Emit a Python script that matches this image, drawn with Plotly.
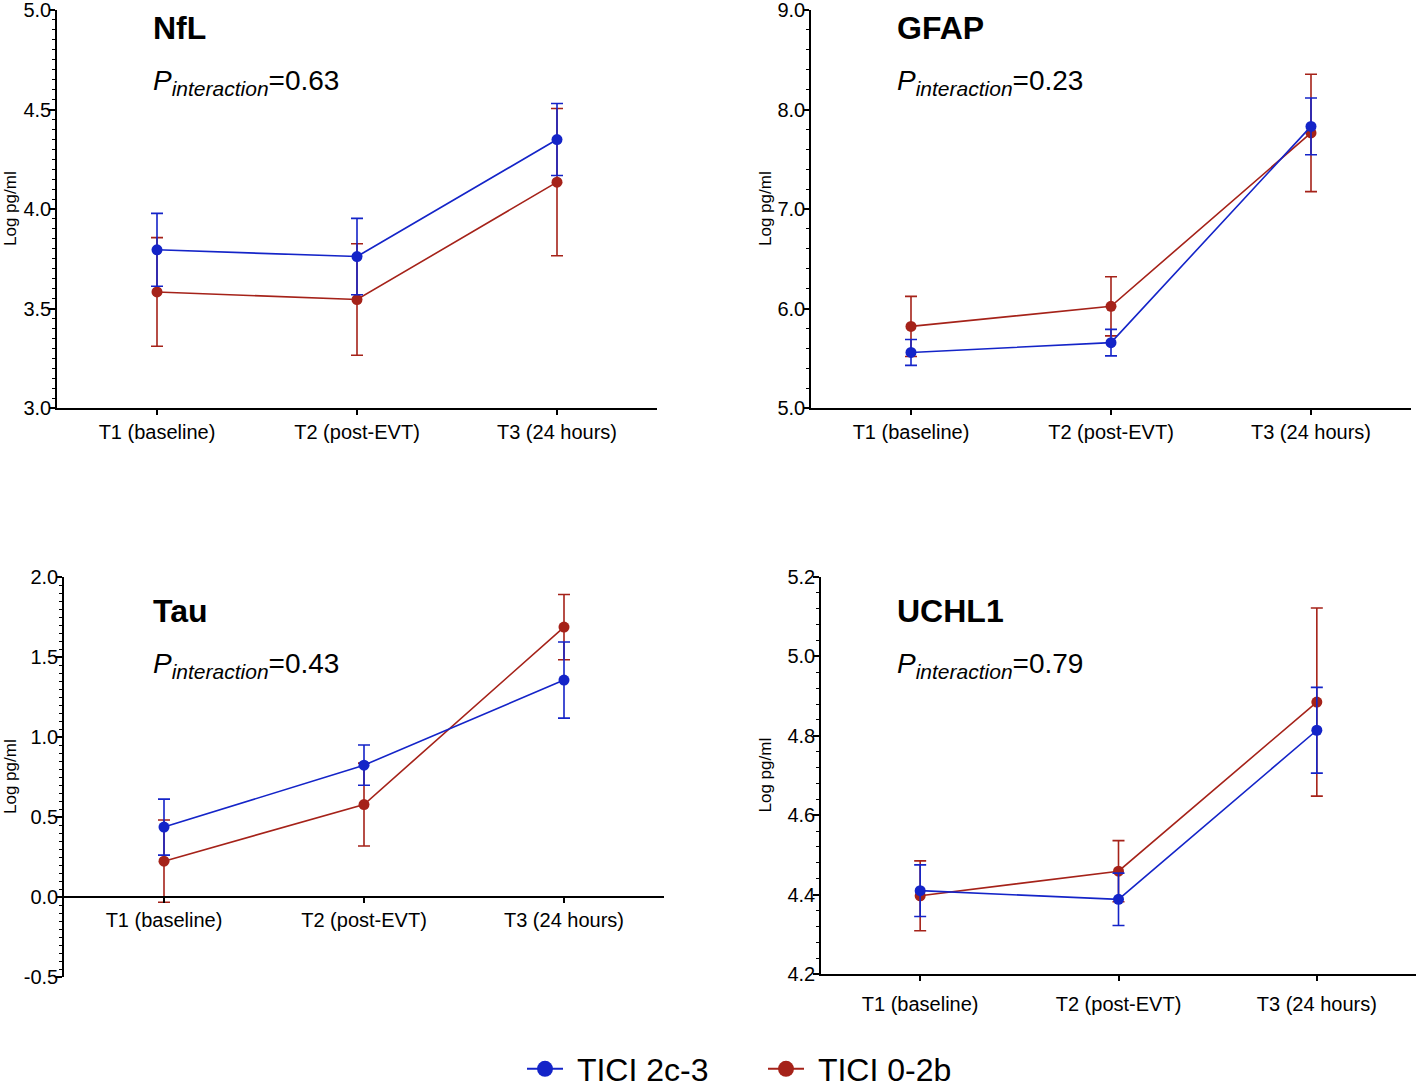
import plotly.graph_objects as go

# time points shared by all four panels
timepoints = ['T1 (baseline)', 'T2 (post-EVT)', 'T3 (24 hours)']

# mean log pg/ml and error (half-width of the bar)
nfl_good = [3.795, 3.761, 4.349]
nfl_good_err = [0.183, 0.192, 0.181]
nfl_poor = [3.583, 3.545, 4.135]
nfl_poor_err = [0.273, 0.280, 0.370]

gfap_good = [5.558, 5.657, 7.830]
gfap_good_err = [0.130, 0.133, 0.285]
gfap_poor = [5.820, 6.022, 7.765]
gfap_poor_err = [0.302, 0.297, 0.590]

tau_good = [0.437, 0.824, 1.356]
tau_good_err = [0.175, 0.126, 0.238]
tau_poor = [0.224, 0.578, 1.687]
tau_poor_err = [0.257, 0.259, 0.204]

uchl1_good = [4.410, 4.388, 4.814]
uchl1_good_err = [0.065, 0.066, 0.108]
uchl1_poor = [4.397, 4.459, 4.885]
uchl1_poor_err = [0.088, 0.077, 0.237]

# y tick values for each panel
nfl_ticks = [3.0, 3.5, 4.0, 4.5, 5.0]
gfap_ticks = [5.0, 6.0, 7.0, 8.0, 9.0]
tau_ticks = [-0.5, 0.0, 0.5, 1.0, 1.5, 2.0]
uchl1_ticks = [4.2, 4.4, 4.6, 4.8, 5.0, 5.2]

p_values = ['0.63', '0.23', '0.43', '0.79']
markers = ['NfL', 'GFAP', 'Tau', 'UCHL1']

legend_names = ['TICI 2c-3', 'TICI 0-2b']

BLUE = '#1424c8'
RED = '#a52219'
FONT = 'Liberation Sans, Arial, sans-serif'

W = 1418
H = 1087


def px_x(p):
    return p / W


def px_y(p):
    return 1 - p / H


# panel boxes in pixels: left, right, top, bottom
panels = [
    dict(box=(57, 657, 10, 408), ticks=nfl_ticks, minor=0.05,
         good=(nfl_good, nfl_good_err), poor=(nfl_poor, nfl_poor_err)),
    dict(box=(811, 1411, 10, 408), ticks=gfap_ticks, minor=0.2,
         good=(gfap_good, gfap_good_err), poor=(gfap_poor, gfap_poor_err)),
    dict(box=(64, 664, 577, 977), ticks=tau_ticks, minor=0.05,
         good=(tau_good, tau_good_err), poor=(tau_poor, tau_poor_err)),
    dict(box=(821, 1416, 577, 974), ticks=uchl1_ticks, minor=0.04,
         good=(uchl1_good, uchl1_good_err), poor=(uchl1_poor, uchl1_poor_err)),
]

title_pos = [(151, 28), (895, 28), (151, 611), (895, 611)]
p_pos = [(151, 82), (895, 82), (151, 665), (895, 665)]
ylabel_x = [10, 765, 10, 765]

fig = go.Figure()
layout = dict(
    width=W, height=H,
    margin=dict(l=0, r=0, t=0, b=0, autoexpand=False),
    paper_bgcolor='white', plot_bgcolor='white',
    font=dict(family=FONT, color='black'),
    showlegend=True,
    annotations=[],
)

for i, pan in enumerate(panels):
    n = '' if i == 0 else str(i + 1)
    left, right, top, bottom = pan['box']
    ydom = [px_y(bottom), px_y(top)]
    yr = [pan['ticks'][0], pan['ticks'][-1]]

    for (vals, errs), color in [(pan['poor'], RED), (pan['good'], BLUE)]:
        fig.add_trace(go.Scatter(
            x=[0, 1, 2], y=vals,
            mode='lines+markers',
            line=dict(color=color, width=1.6),
            marker=dict(color=color, size=11),
            error_y=dict(type='data', array=errs, color=color,
                         thickness=1.6, width=6),
            showlegend=False,
            xaxis='x' + n, yaxis='y' + n,
        ))

    xaxis = dict(
        domain=[px_x(left), px_x(right)],
        range=[-0.5, 2.5],
        tickvals=[0, 1, 2], ticktext=timepoints,
        showline=True, linecolor='black', linewidth=1.5,
        ticks='outside', ticklen=5, tickwidth=1.5, tickcolor='black',
        tickfont=dict(size=20),
        showgrid=False, zeroline=False, automargin=False,
        anchor='y' + n,
    )
    if i == 3:
        xaxis['ticklabelstandoff'] = 6
    if i == 2:
        # x axis sits at y = 0 in the Tau panel
        y0 = bottom - (0 - yr[0]) / (yr[1] - yr[0]) * (bottom - top)
        xaxis['anchor'] = 'free'
        xaxis['position'] = px_y(y0)

    yaxis = dict(
        domain=ydom,
        range=yr,
        tickvals=pan['ticks'],
        ticktext=['%.1f' % v for v in pan['ticks']],
        showline=True, linecolor='black', linewidth=1.5,
        ticks='outside', ticklen=6, tickwidth=1.5, tickcolor='black',
        tickfont=dict(size=20), ticklabelstandoff=-6,
        ticklabeloverflow='allow',
        minor=dict(dtick=pan['minor'], tick0=0, ticks='outside', ticklen=3,
                   tickwidth=1.2, tickcolor='black'),
        showgrid=False, zeroline=False, automargin=False,
        anchor='x' + n,
    )
    layout['xaxis' + n] = xaxis
    layout['yaxis' + n] = yaxis

    tx, ty = title_pos[i]
    layout['annotations'].append(dict(
        text='<b>' + markers[i] + '</b>', xref='paper', yref='paper',
        x=px_x(tx), y=px_y(ty), xanchor='left', yanchor='middle',
        showarrow=False, font=dict(size=32, family=FONT)))
    px_, py_ = p_pos[i]
    layout['annotations'].append(dict(
        text='<i>P<sub><span style="font-size:21px">interaction</span></sub></i>=' + p_values[i],
        xref='paper', yref='paper',
        x=px_x(px_), y=px_y(py_), xanchor='left', yanchor='middle',
        showarrow=False, font=dict(size=28, family=FONT)))
    layout['annotations'].append(dict(
        text='Log pg/ml', xref='paper', yref='paper', textangle=-90,
        x=px_x(ylabel_x[i]), y=px_y((top + bottom) / 2),
        xanchor='center', yanchor='middle',
        showarrow=False, font=dict(size=17, family=FONT)))

# legend entries with a larger marker than the plotted points
for name, color in zip(legend_names, [BLUE, RED]):
    fig.add_trace(go.Scatter(
        x=[None], y=[None], name='\u00a0' + name,
        mode='lines+markers',
        line=dict(color=color, width=2),
        marker=dict(color=color, size=20),
        showlegend=True,
    ))

layout['legend'] = dict(
    orientation='h', x=px_x(522), y=px_y(1069),
    xanchor='left', yanchor='middle',
    font=dict(size=32, family=FONT),
    itemwidth=36, entrywidth=190,
    bgcolor='rgba(0,0,0,0)',
)

fig.update_layout(**layout)
# drop the page's default body margin so the figure sits at the window origin
fig.write_html('out.html', config={'displayModeBar': False},
               post_script="document.body.style.margin='0px';")
